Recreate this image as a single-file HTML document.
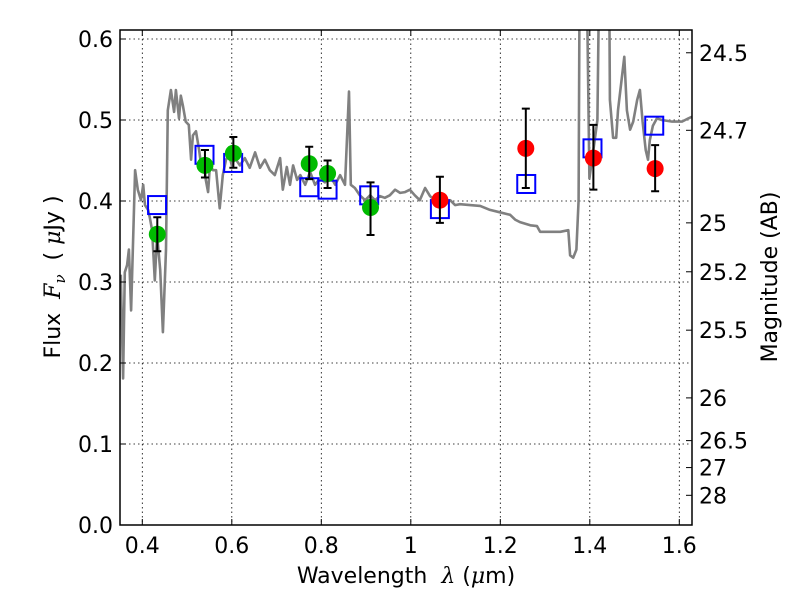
<!DOCTYPE html>
<html><head><meta charset="utf-8"><style>
body{margin:0;background:#fff;}
svg text{font-family:"DejaVu Sans","Liberation Sans",sans-serif;fill:#000;}
</style></head><body>
<svg id="chart" width="800" height="600" xmlns="http://www.w3.org/2000/svg">
<rect width="800" height="600" fill="#fff"/>
<defs><clipPath id="plotclip"><rect x="120" y="30" width="572" height="495"/></clipPath></defs>
<g id="grid"></g>
<g id="spec" clip-path="url(#plotclip)"></g>
<g id="marks"></g>
<rect x="120" y="30" width="572" height="495" fill="none" stroke="#000" stroke-width="1.5"/>
<g id="ticks"></g>
<text x="406" y="583" font-size="22" text-anchor="middle">Wavelength&#160;&#160;<tspan font-style="italic" font-family="DejaVu Serif">λ</tspan> (<tspan font-style="italic" font-family="DejaVu Serif">μ</tspan>m)</text>
<text transform="translate(60,277) rotate(-90)" font-size="22" text-anchor="middle">Flux&#160;&#160;<tspan font-style="italic" font-family="DejaVu Serif">F</tspan><tspan font-style="italic" font-family="DejaVu Serif" font-size="15" dy="5">ν</tspan><tspan dy="-5">&#160;&#160;(&#160;</tspan><tspan font-style="italic" font-family="DejaVu Serif">μ</tspan>Jy )</text>
<text transform="translate(777,277) rotate(-90)" font-size="22" text-anchor="middle">Magnitude (AB)</text>
</svg>
<script>
const xTicks=[0.4,0.6,0.8,1,1.2,1.4,1.6];
const xTickLabels=["0.4","0.6","0.8","1","1.2","1.4","1.6"];
const yTicks=[0,0.1,0.2,0.3,0.4,0.5,0.6];
const yTickLabels=["0.0","0.1","0.2","0.3","0.4","0.5","0.6"];
const magTicks=[24.5,24.7,25,25.2,25.5,26,26.5,27,28];
const magTickLabels=["24.5","24.7","25","25.2","25.5","26","26.5","27","28"];
const specLam=[0.352,0.357,0.361,0.366,0.370,0.375,0.384,0.390,0.397,0.402,0.406,0.413,0.417,0.422,0.428,0.433,0.440,0.446,0.453,0.457,0.464,0.471,0.475,0.482,0.486,0.491,0.497,0.504,0.509,0.513,0.520,0.527,0.533,0.538,0.542,0.547,0.551,0.558,0.565,0.573,0.580,0.587,0.594,0.600,0.607,0.618,0.629,0.640,0.652,0.663,0.674,0.685,0.696,0.708,0.714,0.723,0.730,0.737,0.746,0.753,0.764,0.775,0.786,0.797,0.808,0.819,0.831,0.842,0.853,0.862,0.866,0.875,0.886,0.898,0.909,0.920,0.931,0.942,0.953,0.965,0.976,0.987,0.998,1.009,1.020,1.032,1.043,1.054,1.065,1.076,1.088,1.099,1.110,1.132,1.155,1.177,1.199,1.222,1.233,1.244,1.267,1.282,1.289,1.311,1.334,1.352,1.356,1.363,1.370,1.375,1.379,1.388,1.399,1.408,1.417,1.426,1.441,1.445,1.452,1.459,1.463,1.477,1.483,1.490,1.497,1.506,1.512,1.518,1.525,1.530,1.534,1.541,1.550,1.561,1.584,1.606,1.620,1.628];
const specFlux=[0.309,0.181,0.312,0.321,0.340,0.265,0.438,0.414,0.401,0.420,0.395,0.389,0.379,0.364,0.302,0.358,0.315,0.238,0.340,0.512,0.537,0.510,0.537,0.502,0.530,0.517,0.498,0.494,0.451,0.481,0.486,0.463,0.438,0.451,0.426,0.411,0.444,0.438,0.438,0.391,0.432,0.451,0.457,0.444,0.453,0.444,0.453,0.441,0.460,0.441,0.451,0.438,0.432,0.453,0.414,0.442,0.420,0.444,0.426,0.432,0.420,0.436,0.420,0.428,0.423,0.432,0.420,0.432,0.420,0.535,0.420,0.416,0.407,0.401,0.407,0.401,0.406,0.404,0.407,0.414,0.410,0.411,0.414,0.407,0.401,0.416,0.406,0.401,0.398,0.395,0.401,0.395,0.396,0.395,0.394,0.389,0.386,0.383,0.377,0.374,0.370,0.369,0.362,0.362,0.362,0.364,0.333,0.330,0.340,0.401,0.9,0.9,0.428,0.463,0.500,0.9,0.9,0.525,0.478,0.478,0.512,0.578,0.512,0.488,0.498,0.525,0.537,0.498,0.463,0.451,0.475,0.493,0.502,0.500,0.498,0.498,0.502,0.504];
const greenLam=[0.4335,0.540,0.6035,0.773,0.814,0.910];
const greenFlux=[0.359,0.444,0.459,0.446,0.434,0.392];
const greenHi=[0.380,0.463,0.479,0.467,0.450,0.423];
const greenLo=[0.338,0.429,0.441,0.427,0.416,0.358];
const redLam=[1.065,1.257,1.408,1.546];
const redFlux=[0.401,0.465,0.453,0.440];
const redHi=[0.430,0.514,0.494,0.469];
const redLo=[0.373,0.416,0.414,0.412];
const modelLam=[0.433,0.539,0.603,0.773,0.814,0.907,1.065,1.258,1.406,1.544];
const modelFlux=[0.395,0.457,0.447,0.417,0.414,0.407,0.390,0.421,0.465,0.493];

const NS="http://www.w3.org/2000/svg";
const X=l=>142.3+(l-0.4)*447.5;
const Y=f=>525-f*810;
const magToFlux=m=>0.569*Math.pow(10,-0.4*(m-24.5))+0.014;
function mk(tag,attrs,parent){const e=document.createElementNS(NS,tag);for(const k in attrs)e.setAttribute(k,attrs[k]);document.getElementById(parent).appendChild(e);return e;}

xTicks.forEach((t,i)=>{
  const x=X(t);
  const g=mk('line',{x1:x,x2:x,y1:30,y2:525,stroke:'#000','stroke-width':0.8,'stroke-dasharray':'1.5,3'},'grid');
  
  
  const t1=mk('line',{x1:x,x2:x,y1:525,y2:519,stroke:'#000','stroke-width':1},'ticks');
  
  
  const t2=mk('line',{x1:x,x2:x,y1:30,y2:36,stroke:'#000','stroke-width':1},'ticks');
  
  
  const lb=mk('text',{x:x,y:553,'font-size':22,'text-anchor':'middle'},'ticks');
  lb.textContent=xTickLabels[i];
  
  
});
yTicks.forEach((t,i)=>{
  const y=Y(t);
  const g=mk('line',{x1:120,x2:692,y1:y,y2:y,stroke:'#000','stroke-width':0.8,'stroke-dasharray':'1.5,3'},'grid');
  
  
  const tk=mk('line',{x1:120,x2:126,y1:y,y2:y,stroke:'#000','stroke-width':1},'ticks');
  
  
  const lb=mk('text',{x:113,y:y+8,'font-size':22,'text-anchor':'end'},'ticks');
  lb.textContent=yTickLabels[i];
  
  
});
magTicks.forEach((m,i)=>{
  const y=Y(magToFlux(m));
  const tk=mk('line',{x1:686,x2:692,y1:y,y2:y,stroke:'#000','stroke-width':1},'ticks');
  
  
  const lb=mk('text',{x:699,y:y+8,'font-size':22},'ticks');
  lb.textContent=magTickLabels[i];
  
  
});
const pts=specLam.map((l,i)=>X(l).toFixed(1)+','+Y(specFlux[i]).toFixed(1)).join(' ');
const sp=mk('polyline',{points:pts,fill:'none',stroke:'#808080','stroke-width':2.6,'stroke-linejoin':'round'},'spec');


modelLam.forEach((l,i)=>{
  const s=mk('rect',{x:X(l)-9,y:Y(modelFlux[i])-9,width:18,height:18,fill:'none',stroke:'#0000ff','stroke-width':2},'marks');
  
  
});
function pointsWithErr(lam,fl,hi,lo,color,name){
  lam.forEach((l,i)=>{
    const x=X(l);
    const c=mk('circle',{cx:x,cy:Y(fl[i]),r:8.5,fill:color},'marks');
    
    
    const e=mk('path',{d:`M${x},${Y(hi[i])}V${Y(lo[i])}M${x-4},${Y(hi[i])}H${x+4}M${x-4},${Y(lo[i])}H${x+4}`,stroke:'#000','stroke-width':2,fill:'none'},'marks');
    
    
  });
}
pointsWithErr(greenLam,greenFlux,greenHi,greenLo,'#00bb00','optical-data-point');
pointsWithErr(redLam,redFlux,redHi,redLo,'#ff0000','nir-data-point');
</script>
</body></html>
